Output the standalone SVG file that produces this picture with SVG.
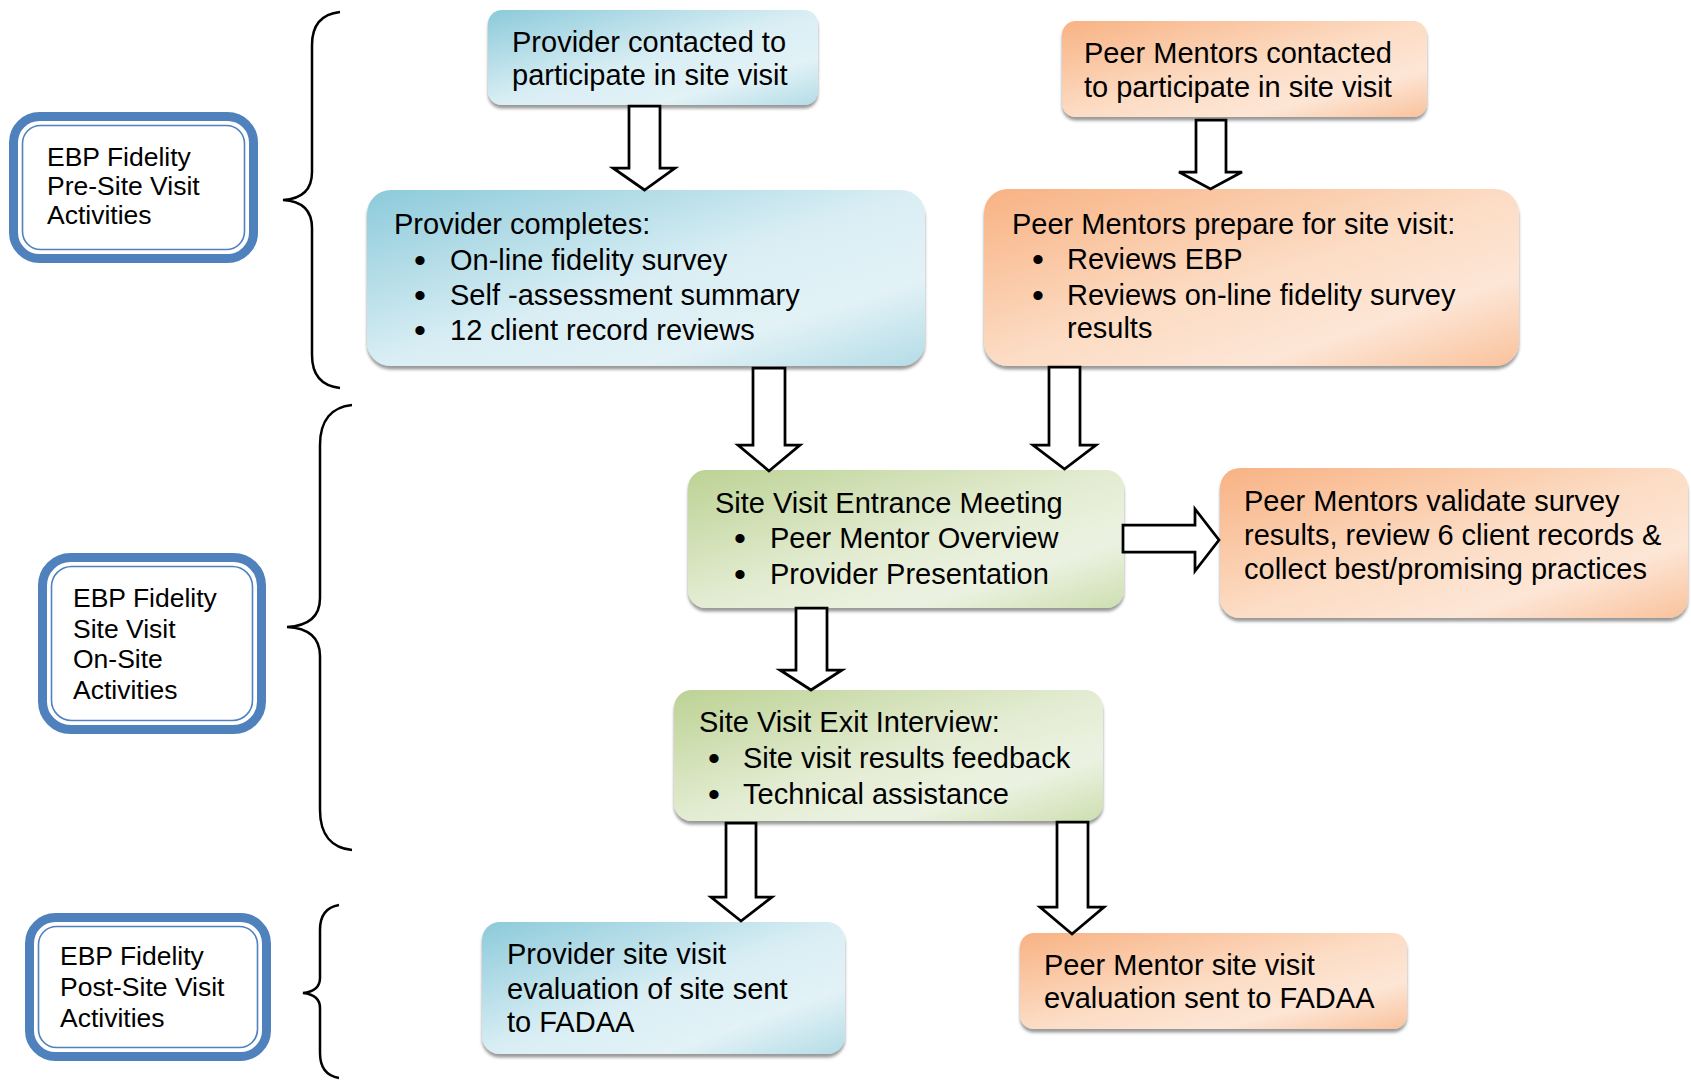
<svg xmlns="http://www.w3.org/2000/svg" width="1691" height="1082" viewBox="0 0 1691 1082">
  <defs>
    <linearGradient id="gBlue" x1="0" y1="0" x2="1" y2="1">
      <stop offset="0" stop-color="#8ccada"/>
      <stop offset="0.5" stop-color="#d9eef4"/>
      <stop offset="0.75" stop-color="#e2f2f6"/>
      <stop offset="1" stop-color="#b4dce7"/>
    </linearGradient>
    <linearGradient id="gOrange" x1="0" y1="0" x2="1" y2="1">
      <stop offset="0" stop-color="#f8b283"/>
      <stop offset="0.5" stop-color="#fcdcc4"/>
      <stop offset="0.75" stop-color="#fde6d6"/>
      <stop offset="1" stop-color="#f9c29c"/>
    </linearGradient>
    <linearGradient id="gGreen" x1="0" y1="0" x2="1" y2="1">
      <stop offset="0" stop-color="#bcd294"/>
      <stop offset="0.5" stop-color="#e3ecd2"/>
      <stop offset="0.75" stop-color="#ecf2e2"/>
      <stop offset="1" stop-color="#cddfb0"/>
    </linearGradient>
    <filter id="shadow" x="-5%" y="-5%" width="110%" height="120%">
      <feDropShadow dx="0" dy="3.5" stdDeviation="1.4" flood-color="#000" flood-opacity="0.4"/>
    </filter>
  </defs>
  <style>
    text { font-family: "Liberation Sans", Arial, sans-serif; fill: #000; }
    .t { font-size: 29px; }
    .lbl { font-size: 26.5px; }
    .bl { font-size: 34px; text-anchor: middle; }
    .blue { fill: url(#gBlue); filter: url(#shadow); }
    .orange { fill: url(#gOrange); filter: url(#shadow); }
    .green { fill: url(#gGreen); filter: url(#shadow); }
    .frame { fill: #fff; stroke: #4f81bd; stroke-width: 9; }
    .frame-in { fill: none; stroke: #4f81bd; stroke-width: 1.6; }
    .brace { fill: none; stroke: #000; stroke-width: 2.5; }
    .arrow { fill: #fff; stroke: #000; stroke-width: 2.75; stroke-linejoin: miter; }
  </style>

  <!-- phase labels -->
  <g id="label-pre">
    <rect class="frame" x="13.5" y="116.5" width="240" height="142" rx="26"/>
    <rect class="frame-in" x="22.5" y="125.5" width="222" height="124" rx="18"/>
    <text class="lbl" x="47" y="166">EBP Fidelity</text>
    <text class="lbl" x="47" y="195">Pre-Site Visit</text>
    <text class="lbl" x="47" y="224">Activities</text>
  </g>
  <g id="label-onsite">
    <rect class="frame" x="42.5" y="557.5" width="219" height="172" rx="28"/>
    <rect class="frame-in" x="51.5" y="566.5" width="201" height="154" rx="20"/>
    <text class="lbl" x="73" y="607">EBP Fidelity</text>
    <text class="lbl" x="73" y="637.5">Site Visit</text>
    <text class="lbl" x="73" y="668">On-Site</text>
    <text class="lbl" x="73" y="698.5">Activities</text>
  </g>
  <g id="label-post">
    <rect class="frame" x="29.5" y="917.5" width="237" height="139" rx="26"/>
    <rect class="frame-in" x="38.5" y="926.5" width="219" height="121" rx="18"/>
    <text class="lbl" x="60" y="965">EBP Fidelity</text>
    <text class="lbl" x="60" y="996">Post-Site Visit</text>
    <text class="lbl" x="60" y="1027">Activities</text>
  </g>

  <!-- braces grouping each phase -->
  <g id="braces">
    <path class="brace" d="M340 12 C322 14 312 24 312 45 L312 172 C312 192 300 199 283 200 C300 201 312 208 312 228 L312 355 C312 376 322 386 340 388"/>
    <path class="brace" d="M352 405 C332 407 320 420 320 445 L320 598 C320 618 306 626 287 627 C306 628 320 636 320 656 L320 810 C320 835 332 848 352 850"/>
    <path class="brace" d="M339 905 C327 907 320 915 320 930 L320 978 C320 988 312 992 303 993 C312 994 320 998 320 1008 L320 1053 C320 1068 327 1076 339 1078"/>
  </g>

  <!-- process steps -->
  <g id="provider-contacted">
    <rect class="blue" x="488" y="10" width="330" height="95" rx="14"/>
    <text class="t" x="512" y="52">Provider contacted to</text>
    <text class="t" x="512" y="85">participate in site visit</text>
  </g>
  <g id="provider-completes">
    <rect class="blue" x="367" y="190" width="558" height="176" rx="24"/>
    <text class="t" x="394" y="234">Provider completes:</text>
    <text class="bl" x="420" y="272">•</text>
    <text class="t" x="450" y="270">On-line fidelity survey</text>
    <text class="bl" x="420" y="307">•</text>
    <text class="t" x="450" y="305">Self -assessment summary</text>
    <text class="bl" x="420" y="342">•</text>
    <text class="t" x="450" y="340">12 client record reviews</text>
  </g>
  <g id="mentors-contacted">
    <rect class="orange" x="1062" y="21" width="365" height="96" rx="14"/>
    <text class="t" x="1084" y="63">Peer Mentors contacted</text>
    <text class="t" x="1084" y="97">to participate in site visit</text>
  </g>
  <g id="mentors-prepare">
    <rect class="orange" x="984" y="189" width="535" height="177" rx="24"/>
    <text class="t" x="1012" y="234">Peer Mentors prepare for site visit:</text>
    <text class="bl" x="1038" y="271">•</text>
    <text class="t" x="1067" y="269">Reviews EBP</text>
    <text class="bl" x="1038" y="307">•</text>
    <text class="t" x="1067" y="305">Reviews on-line fidelity survey</text>
    <text class="t" x="1067" y="338">results</text>
  </g>
  <g id="entrance-meeting">
    <rect class="green" x="688" y="470" width="436" height="138" rx="18"/>
    <text class="t" x="715" y="513">Site Visit Entrance Meeting</text>
    <text class="bl" x="740" y="550">•</text>
    <text class="t" x="770" y="548">Peer Mentor Overview</text>
    <text class="bl" x="740" y="586">•</text>
    <text class="t" x="770" y="584">Provider Presentation</text>
  </g>
  <g id="mentors-validate">
    <rect class="orange" x="1220" y="468" width="468" height="150" rx="20"/>
    <text class="t" x="1244" y="511">Peer Mentors validate survey</text>
    <text class="t" x="1244" y="545">results, review 6 client records &amp;</text>
    <text class="t" x="1244" y="579">collect best/promising practices</text>
  </g>
  <g id="exit-interview">
    <rect class="green" x="674" y="690" width="429" height="131" rx="18"/>
    <text class="t" x="699" y="732">Site Visit Exit Interview:</text>
    <text class="bl" x="714" y="770">•</text>
    <text class="t" x="743" y="768">Site visit results feedback</text>
    <text class="bl" x="714" y="806">•</text>
    <text class="t" x="743" y="804">Technical assistance</text>
  </g>
  <g id="provider-evaluation">
    <rect class="blue" x="482" y="922" width="363" height="132" rx="18"/>
    <text class="t" x="507" y="964">Provider site visit</text>
    <text class="t" x="507" y="998.5">evaluation of site sent</text>
    <text class="t" x="507" y="1032">to FADAA</text>
  </g>
  <g id="mentor-evaluation">
    <rect class="orange" x="1020" y="933" width="387" height="96" rx="14"/>
    <text class="t" x="1044" y="975">Peer Mentor site visit</text>
    <text class="t" x="1044" y="1008">evaluation sent to FADAA</text>
  </g>

  <!-- block arrows between steps -->
  <g id="connectors">
    <path class="arrow" d="M629 106 L660 106 L660 168 L675 168 L644.5 190 L613 168 L629 168 Z"/>
    <path class="arrow" d="M1196 120 L1226 120 L1226 172 L1242 172 L1210.5 189 L1179 172 L1196 172 Z"/>
    <path class="arrow" d="M753 368 L785 368 L785 445 L800 445 L769 471 L738 445 L753 445 Z"/>
    <path class="arrow" d="M1049 367 L1080 367 L1080 445 L1096 445 L1064.5 469 L1033 445 L1049 445 Z"/>
    <path class="arrow" d="M796 608 L827 608 L827 670 L842 670 L811 690 L780 670 L796 670 Z"/>
    <path class="arrow" d="M1123 525 L1195 525 L1195 509 L1219 540 L1195 571 L1195 552 L1123 552 Z"/>
    <path class="arrow" d="M726 823 L756 823 L756 897 L772 897 L741 921 L711 897 L726 897 Z"/>
    <path class="arrow" d="M1057 822 L1088 822 L1088 907 L1104 907 L1072 934 L1040 907 L1057 907 Z"/>
  </g>
</svg>
